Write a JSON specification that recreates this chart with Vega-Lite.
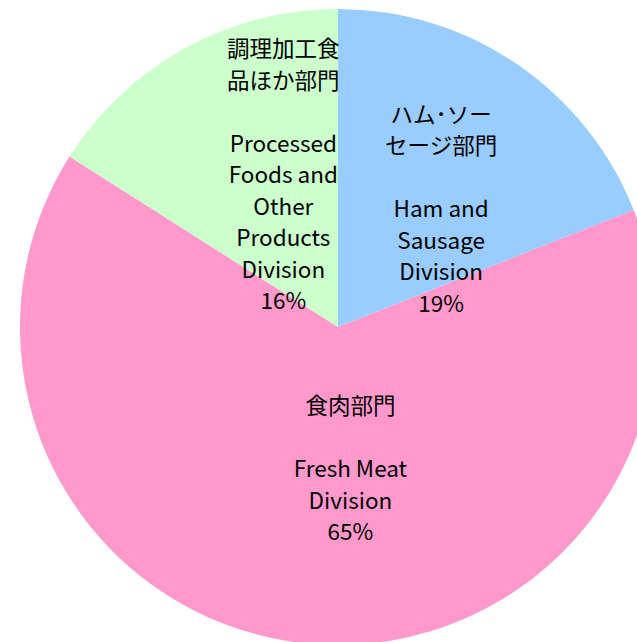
{
  "$schema": "https://vega.github.io/schema/vega-lite/v6.json",
  "width": 600,
  "height": 630,
  "autosize": {"type": "none"},
  "padding": {"left": 38, "top": 12, "right": 0, "bottom": 0},
  "background": "white",
  "config": {"view": {"stroke": null}},
  "data": {"values": [
    {"part": "ham", "order": 1, "share": 19, "ja": ["ハム･ソー", "セージ部門"], "en": ["Ham and", "Sausage", "Division", "19%"]},
    {"part": "meat", "order": 2, "share": 65, "ja": ["食肉部門"], "en": ["Fresh Meat", "Division", "65%"]},
    {"part": "processed", "order": 3, "share": 16, "ja": ["調理加工食", "品ほか部門"], "en": ["Processed", "Foods and", "Other", "Products", "Division", "16%"]}
  ]},
  "encoding": {
    "theta": {"field": "share", "type": "quantitative", "stack": true},
    "order": {"field": "order", "type": "quantitative"}
  },
  "layer": [
    {
      "mark": {"type": "arc", "outerRadius": 318},
      "encoding": {
        "color": {"field": "part", "type": "nominal", "legend": null,
          "scale": {"domain": ["ham", "meat", "processed"], "range": ["#99CCFF", "#FF99CC", "#CCFFCC"]}}
      }
    },
    {
      "mark": {"type": "text", "radius": 155, "fontSize": 22.5, "font": "Noto Sans CJK JP", "color": "black", "lineHeight": 31.5, "baseline": "middle",
        "dx": {"expr": "datum.part === 'processed' ? 20 : datum.part === 'ham' ? 16 : 27"},
        "dy": {"expr": "datum.part === 'processed' ? -141 : datum.part === 'ham' ? -83 : -74"}},
      "encoding": {"text": {"field": "ja", "type": "nominal"}}
    },
    {
      "mark": {"type": "text", "radius": 155, "fontSize": 22.5, "font": "Noto Sans CJK JP", "color": "black", "lineHeight": 31.5, "baseline": "middle",
        "dx": {"expr": "datum.part === 'processed' ? 20 : datum.part === 'ham' ? 16 : 27"},
        "dy": {"expr": "datum.part === 'processed' ? -46.5 : datum.part === 'ham' ? 11.5 : -11"}},
      "encoding": {"text": {"field": "en", "type": "nominal"}}
    }
  ]
}
